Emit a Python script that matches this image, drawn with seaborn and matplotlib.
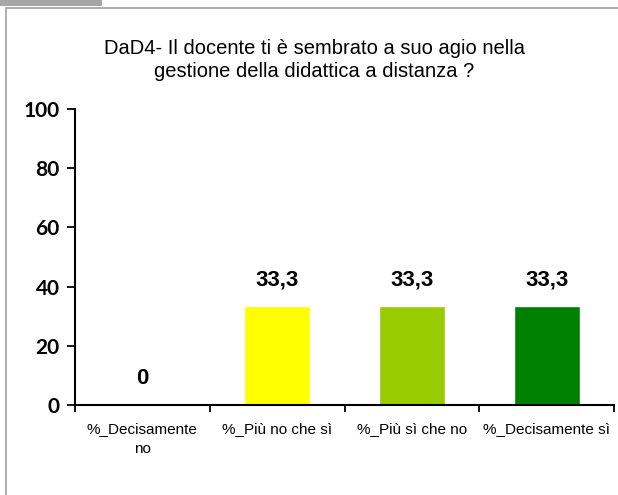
import numpy as np
import pandas as pd
import seaborn as sns
import matplotlib.pyplot as plt
from matplotlib.patches import Rectangle

categories = ["%_Decisamente\nno", "%_Più no che sì", "%_Più sì che no", "%_Decisamente sì"]
values = [0, 33.3, 33.3, 33.3]
value_labels = ["0", "33,3", "33,3", "33,3"]
colors = ["#ff0000", "#ffff00", "#99cc00", "#008000"]
yticks = [0, 20, 40, 60, 80, 100]

sns.set_style("ticks")
plt.rcParams['font.family'] = ['Liberation Sans', 'DejaVu Sans']
plt.rcParams['text.color'] = 'black'
plt.rcParams['xtick.color'] = 'black'
plt.rcParams['ytick.color'] = 'black'

df = pd.DataFrame({"cat": categories, "val": values})

fig = plt.figure(figsize=(6.18, 4.95), dpi=100)
ax = fig.add_axes([75 / 618, 1 - 405 / 495, 539 / 618, 296 / 495])

sns.barplot(data=df, x="cat", y="val", hue="cat", palette=colors, legend=False,
            width=0.49, saturation=1, ax=ax)

ax.set_ylim(0, 100)
ax.set_xlim(-0.5, 3.5)
ax.set_yticks(yticks)
ax.set_yticklabels([str(t) for t in yticks], fontfamily="Lato", fontweight="bold", fontsize=15)
ax.set_xticks(np.arange(-0.5, 4, 1))
ax.set_xticklabels([])
ax.set_xticks(range(len(categories)), minor=True)
ax.set_xticklabels(categories, minor=True, fontsize=11, linespacing=1.55)
ax.tick_params(axis="x", which="minor", length=0, pad=12)
ax.tick_params(axis="x", which="major", length=5, width=1.3, direction="out")
ax.tick_params(axis="y", length=6, width=1.3, direction="out", pad=5)
ax.set_xlabel("")
ax.set_ylabel("")
for s in ["left", "bottom"]:
    ax.spines[s].set_linewidth(1.5)
    ax.spines[s].set_color("black")
sns.despine(ax=ax)

for i, (v, lab) in enumerate(zip(values, value_labels)):
    ax.text(i, v + 5.5, lab, ha="center", va="bottom", fontsize=16, fontweight="bold")

fig.text(314 / 618, 1 - 60 / 495, "DaD4- Il docente ti è sembrato a suo agio nella\ngestione della didattica a distanza ?",
         ha="center", va="center", fontsize=14.5, linespacing=1.32)

# frame and top-left tab
fig.patches.append(Rectangle((6 / 618, -0.01), 1.0, 1 - 8 / 495 + 0.01, transform=fig.transFigure,
                             fill=False, edgecolor="#a0a0a0", linewidth=1.2))
fig.patches.append(Rectangle((0, 1 - 6 / 495), 102 / 618, 6 / 495, transform=fig.transFigure,
                             facecolor="#a6a6a6", edgecolor="none"))

fig.savefig("out.png", dpi=100)
